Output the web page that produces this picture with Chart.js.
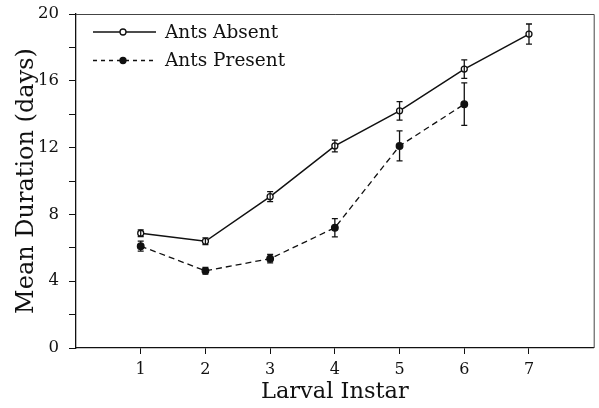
<!DOCTYPE html>
<html>
<head>
<meta charset="utf-8">
<script src="https://cdn.jsdelivr.net/npm/chart.js@4"></script>
<style>
  html, body { margin: 0; padding: 0; background: #fff; }
  canvas { display: block; }
</style>
</head>
<body>
<canvas id="instarChart" width="599" height="408"></canvas>
<script>
// values
var instars = [1, 2, 3, 4, 5, 6, 7];
var absentMean = [6.87, 6.39, 9.06, 12.1, 14.2, 16.7, 18.8];
var absentErr = [0.2, 0.2, 0.3, 0.35, 0.55, 0.55, 0.6];
var presentMean = [6.1, 4.62, 5.35, 7.2, 12.1, 14.6];
var presentErr = [0.3, 0.2, 0.25, 0.55, 0.9, 1.27];
var yTicks = [0, 4, 8, 12, 16, 20];

var ink = '#111';
var serif = '"DejaVu Serif", "Liberation Serif", serif';

function toPoints(xs, ys) {
    return ys.map(function (y, i) { return { x: xs[i], y: y }; });
}

// error bars + frame + legend
var extras = {
    id: 'extras',
    afterDatasetsDraw: function (chart) {
        var ctx = chart.ctx;
        var xs = chart.scales.x, ys = chart.scales.y;
        var errs = [absentErr, presentErr];
        var means = [absentMean, presentMean];
        ctx.save();
        ctx.strokeStyle = ink;
        ctx.lineWidth = 1.3;
        for (var s = 0; s < 2; s++) {
            means[s].forEach(function (m, i) {
                var px = xs.getPixelForValue(instars[i]);
                var top = ys.getPixelForValue(m + errs[s][i]);
                var bot = ys.getPixelForValue(m - errs[s][i]);
                ctx.beginPath();
                ctx.moveTo(px, top); ctx.lineTo(px, bot);
                ctx.moveTo(px - 3, top); ctx.lineTo(px + 3, top);
                ctx.moveTo(px - 3, bot); ctx.lineTo(px + 3, bot);
                ctx.stroke();
            });
        }
        var a = chart.chartArea;
        ctx.lineWidth = 1;
        ctx.strokeStyle = '#444';
        ctx.beginPath();
        ctx.moveTo(a.left, a.top + 0.5); ctx.lineTo(a.right + 0.5, a.top + 0.5);
        ctx.lineTo(a.right + 0.5, a.bottom);
        ctx.stroke();

        // legend
        var lx = a.left + 17, ly = a.top + 18;
        var rows = [
            { label: 'Ants Absent', dash: [], fill: '#fff' },
            { label: 'Ants Present', dash: [4, 4], fill: ink }
        ];
        ctx.font = '18.5px ' + serif;
        ctx.textBaseline = 'middle';
        rows.forEach(function (r, k) {
            var y = ly + k * 28.5;
            ctx.strokeStyle = ink;
            ctx.lineWidth = 1.3;
            ctx.setLineDash(r.dash);
            ctx.beginPath(); ctx.moveTo(lx, y); ctx.lineTo(lx + 63, y); ctx.stroke();
            ctx.setLineDash([]);
            ctx.beginPath(); ctx.arc(lx + 30, y, 3, 0, Math.PI * 2);
            ctx.fillStyle = r.fill; ctx.fill(); ctx.stroke();
            ctx.fillStyle = ink;
            ctx.fillText(r.label, lx + 72, y + 1);
        });
        ctx.restore();
    }
};

var ctx = document.getElementById('instarChart').getContext('2d');
var instarChart = new Chart(ctx, {
    type: 'line',
    data: {
        datasets: [{
            label: 'Ants Absent',
            data: toPoints(instars, absentMean),
            borderColor: ink,
            borderWidth: 1.5,
            pointRadius: 3,
            pointBackgroundColor: '#fff',
            pointBorderColor: ink,
            pointBorderWidth: 1.3
        }, {
            label: 'Ants Present',
            data: toPoints(instars, presentMean),
            borderColor: ink,
            borderWidth: 1.3,
            borderDash: [6, 4],
            pointRadius: 3.3,
            pointBackgroundColor: ink,
            pointBorderColor: ink
        }]
    },
    options: {
        responsive: false,
        animation: false,
        layout: { padding: { top: 14, right: 3, left: 0, bottom: 0 } },
        plugins: { legend: { display: false }, tooltip: { enabled: false } },
        scales: {
            x: {
                type: 'linear',
                min: 0, max: 8,
                afterFit: function (s) { s.height = 60; s.paddingLeft = 0; s.paddingRight = 0; },
                grid: {
                    drawOnChartArea: false,
                    tickLength: 6,
                    tickColor: function (c) {
                        return (c.tick && c.tick.value >= 1 && c.tick.value <= 7) ? ink : 'rgba(0,0,0,0)';
                    }
                },
                border: { color: ink, width: 1.3 },
                ticks: {
                    stepSize: 1,
                    color: ink,
                    padding: 6,
                    font: { family: serif, size: 16 },
                    callback: function (v) { return (v >= 1 && v <= 7) ? v : ''; }
                },
                title: {
                    display: true,
                    text: 'Larval Instar',
                    color: ink,
                    font: { family: serif, size: 22.5 },
                    padding: { top: 0, bottom: 2 }
                }
            },
            y: {
                min: 0, max: 20,
                afterFit: function (s) { s.width = 76; s.paddingTop = 0; s.paddingBottom = 0; },
                grid: { drawOnChartArea: false, tickLength: 7, tickColor: ink },
                border: { color: ink, width: 1.3 },
                afterBuildTicks: function (s) {
                    var t = [];
                    for (var v = 0; v <= 20; v += 2) t.push({ value: v });
                    s.ticks = t;
                },
                ticks: {
                    color: ink,
                    padding: 10,
                    font: { family: serif, size: 16.5 },
                    callback: function (v) { return yTicks.indexOf(v) >= 0 ? v : ''; }
                },
                title: {
                    display: true,
                    text: 'Mean Duration (days)',
                    color: ink,
                    font: { family: serif, size: 24 },
                    padding: { top: 12, bottom: 4 }
                }
            }
        }
    },
    plugins: [extras]
});
</script>
</body>
</html>
